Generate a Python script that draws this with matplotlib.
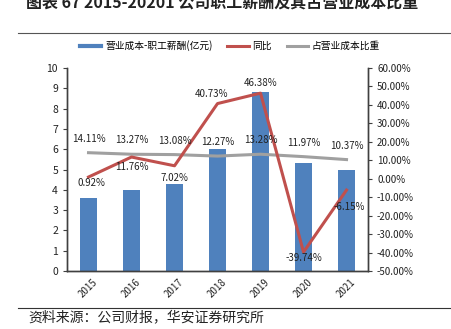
import matplotlib
matplotlib.use("Agg")
import matplotlib.pyplot as plt
from matplotlib.lines import Line2D

plt.rcParams["font.family"] = ["Noto Sans CJK SC", "DejaVu Sans"]

years = ["2015", "2016", "2017", "2018", "2019", "2020", "2021"]
salary = [3.58, 4.00, 4.28, 6.02, 8.81, 5.31, 4.98]          # 亿元
yoy = [0.92, 11.76, 7.02, 40.73, 46.38, -39.74, -6.15]        # %
share = [14.11, 13.27, 13.08, 12.27, 13.28, 11.97, 10.37]     # %

# label offsets in points (dx, dy) for the yoy line
yoy_off = [(2, -4), (0, -7), (0, -9), (-4, 7), (0, 7), (0, -4), (2, -12)]

BLUE = "#4F81BD"
RED = "#C0504D"
GRAY = "#A0A0A0"
AX = "#404040"

fig = plt.figure(figsize=(4.51, 3.29), dpi=100)
ax = fig.add_axes([0.1486, 0.1763, 0.6674, 0.617])
ax2 = ax.twinx()

x = list(range(len(years)))
ax.bar(x, salary, width=0.4, color=BLUE, zorder=2)
ax.set_ylim(0, 10)
ax.set_yticks(range(0, 11))
ax.set_xlim(-0.5, len(years) - 0.5)
ax.set_xticks(x)
ax.set_xticklabels(years, rotation=45, fontsize=7, color="#222222")
ax.tick_params(axis="y", labelsize=7.5, colors="#222222", length=3, color=AX)
ax.tick_params(axis="x", length=0, pad=4)

ax2.plot(x, share, color=GRAY, lw=2.2, zorder=3)
ax2.plot(x, yoy, color=RED, lw=2.2, zorder=4)
ax2.set_ylim(-50, 60)
ax2.set_yticks(range(-50, 61, 10))
ax2.set_yticklabels([f"{v:.2f}%" for v in range(-50, 61, 10)])
ax2.tick_params(axis="y", labelsize=7, colors="#222222", length=3, color=AX)

for a in (ax, ax2):
    a.spines["top"].set_visible(False)
    for s in ("left", "right", "bottom"):
        a.spines[s].set_color(AX)
        a.spines[s].set_linewidth(1)

for i, v in enumerate(share):
    ax2.annotate(f"{v:.2f}%", (i, v), xytext=(0, 10), textcoords="offset points",
                 ha="center", va="center", fontsize=7, color="#222222", zorder=6)
for i, v in enumerate(yoy):
    dx, dy = yoy_off[i]
    ax2.annotate(f"{v:.2f}%", (i, v), xytext=(dx, dy), textcoords="offset points",
                 ha="center", va="center", fontsize=7, color="#222222", zorder=6)

handles = [
    Line2D([], [], color=BLUE, lw=3),
    Line2D([], [], color=RED, lw=2.2),
    Line2D([], [], color=GRAY, lw=2.2),
]
labels = ["营业成本-职工薪酬(亿元)", "同比", "占营业成本比重"]
fig.legend(handles, labels, loc="center", bbox_to_anchor=(0.51, 1 - 46 / 329),
           ncol=3, frameon=False, fontsize=7, handlelength=2.2,
           columnspacing=1.5, handletextpad=0.4)

fig.text(0.492, 1 - 8 / 329, "图表 67 2015-20201 公司职工薪酬及其占营业成本比重",
         ha="center", va="baseline", fontsize=11.5, fontweight="bold", color="#222222")
fig.add_artist(Line2D([18 / 451, 1], [1 - 33 / 329] * 2, color="#555555", lw=0.8))
fig.add_artist(Line2D([18 / 451, 1], [1 - 308 / 329] * 2, color="#333333", lw=0.8))
fig.text(28 / 451, 1 - 317 / 329, "资料来源：公司财报，华安证券研究所",
         ha="left", va="center", fontsize=10, color="#222222")

fig.savefig("out.png", dpi=100)
